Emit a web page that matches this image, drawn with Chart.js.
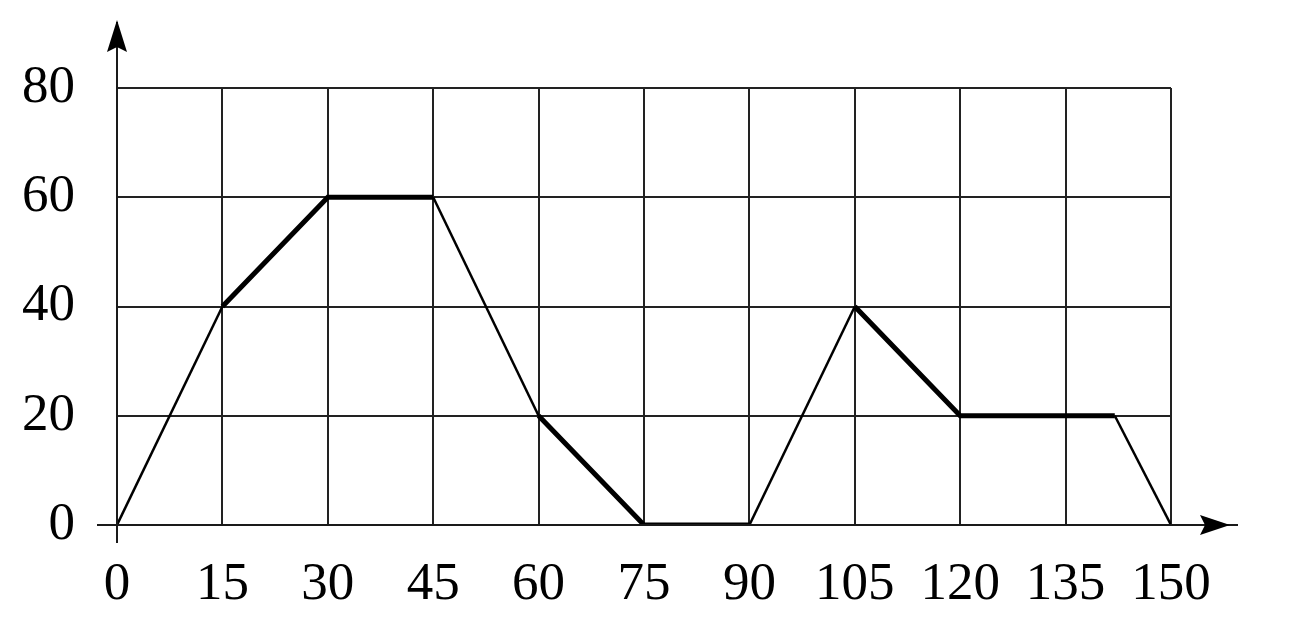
<!DOCTYPE html>
<html>
<head>
<meta charset="utf-8">
<script src="https://cdn.jsdelivr.net/npm/chart.js@4.4.1/dist/chart.umd.min.js"></script>
<style>
  html, body { margin: 0; padding: 0; background: #fff; }
  #wrap { width: 1290px; height: 644px; }
</style>
</head>
<body>
<div id="wrap"><canvas id="graph" width="1290" height="644"></canvas></div>
<script>
// dados do gráfico
const xPoints = [0, 15, 30, 45, 60, 75, 90, 105, 120, 142, 150]
const yPoints = [0, 40, 60, 60, 20, 0, 0, 40, 20, 20, 0]
const xTicks = [0, 15, 30, 45, 60, 75, 90, 105, 120, 135, 150]
const yTicks = [0, 20, 40, 60, 80]

// trechos desenhados com traço grosso (índice do segmento)
const boldSegments = [1, 2, 4, 5, 7, 8]

const points = xPoints.map((x, i) => ({ x: x, y: yPoints[i] }))
const serif = { family: '"Liberation Serif", "DejaVu Serif", serif', size: 53 }

// eixos com setas
const arrowAxes = {
  id: 'arrowAxes',
  afterDraw(chart) {
    const ctx = chart.ctx
    const xs = chart.scales.x
    const ys = chart.scales.y
    const x0 = xs.getPixelForValue(0)
    const y0 = ys.getPixelForValue(0)
    ctx.save()
    ctx.strokeStyle = '#1a1a1a'
    ctx.fillStyle = '#000'
    ctx.lineWidth = 2
    ctx.beginPath()
    ctx.moveTo(x0, 22)
    ctx.lineTo(x0, y0 + 18)
    ctx.moveTo(x0 - 20, y0)
    ctx.lineTo(1238, y0)
    ctx.stroke()
    // seta vertical
    ctx.beginPath()
    ctx.moveTo(x0, 20)
    ctx.lineTo(x0 + 10, 52)
    ctx.lineTo(x0, 47)
    ctx.lineTo(x0 - 10, 52)
    ctx.closePath()
    ctx.fill()
    // seta horizontal
    ctx.beginPath()
    ctx.moveTo(1230, y0)
    ctx.lineTo(1200, y0 - 10)
    ctx.lineTo(1205, y0)
    ctx.lineTo(1200, y0 + 10)
    ctx.closePath()
    ctx.fill()
    ctx.restore()
  }
}

new Chart(document.getElementById('graph'), {
  type: 'line',
  data: {
    datasets: [{
      data: points,
      borderColor: '#000',
      borderWidth: 2.5,
      pointRadius: 0,
      tension: 0,
      segment: {
        borderWidth: c => boldSegments.includes(c.p0DataIndex) ? 5 : 2.5
      }
    }]
  },
  options: {
    responsive: false,
    animation: false,
    layout: { padding: { left: 0, top: 88, right: 119, bottom: 0 } },
    plugins: { legend: { display: false }, tooltip: { enabled: false } },
    scales: {
      x: {
        type: 'linear',
        min: 0,
        max: 150,
        afterFit: s => { s.height = 119 },
        afterBuildTicks: s => { s.ticks = xTicks.map(v => ({ value: v })) },
        grid: { color: '#222', lineWidth: 2, drawTicks: false },
        border: { display: false },
        ticks: { color: '#000', font: serif, padding: 28, maxRotation: 0, autoSkip: false }
      },
      y: {
        min: 0,
        max: 80,
        afterFit: s => { s.width = 117 },
        afterBuildTicks: s => { s.ticks = yTicks.map(v => ({ value: v })) },
        grid: { color: '#222', lineWidth: 2, drawTicks: false },
        border: { display: false },
        ticks: { color: '#000', font: serif, padding: 42 }
      }
    }
  },
  plugins: [arrowAxes]
})
</script>
</body>
</html>
